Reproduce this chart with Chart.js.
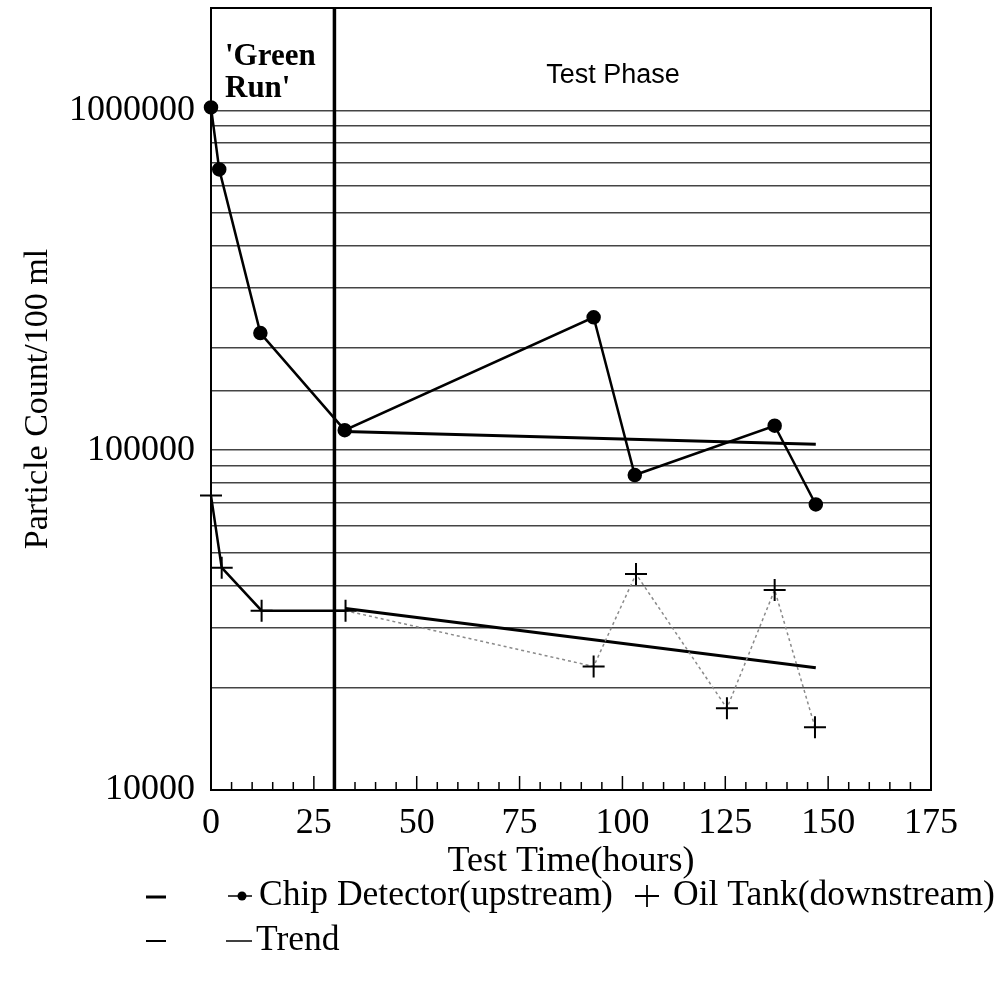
<!DOCTYPE html>
<html>
<head>
<meta charset="utf-8">
<script src="https://cdn.jsdelivr.net/npm/chart.js@4"></script>
<style>
html,body{margin:0;padding:0;background:#fff;}
#wrap{width:1000px;height:983px;position:relative;}
</style>
</head>
<body>
<div id="wrap"><canvas id="c"></canvas></div>
<script>
// ---- data ----
const chipHours = [0, 2, 12, 32.5, 93, 103, 137, 147];
const chipCounts = [1020000, 670000, 221000, 114500, 246000, 84500, 118000, 69200];

const oilHours = [0, 2.6, 12.3, 32.7, 93, 103.3, 125.4, 137, 146.8];
const oilCounts = [73500, 45100, 33700, 33700, 23100, 43200, 17400, 38800, 15300];

const chipTrendHours = [32.5, 147];
const chipTrendCounts = [113500, 104000];
const oilTrendHours = [32.7, 147];
const oilTrendCounts = [34200, 22900];

const xTicks = [0, 25, 50, 75, 100, 125, 150, 175];
const yTickLabels = [10000, 100000, 1000000];
const phaseBoundary = 30;

const seriesNames = ['Chip Detector(upstream)', 'Oil Tank(downstream)', 'Trend'];
const phaseNames = ["'Green", "Run'", 'Test Phase'];
const xTitle = 'Test Time(hours)';
const yTitle = 'Particle Count/100 ml';

const SERIF = "'Liberation Serif','Times New Roman',serif";
const SANS = "'Liberation Sans',Arial,sans-serif";

function pts(xs, ys){ return xs.map((x,i)=>({x:x, y:ys[i]})); }

const decorPlugin = {
  id: 'decor',
  beforeDatasetsDraw(chart){
    const {ctx, chartArea:a, scales:{x}} = chart;
    ctx.save();
    // minor inward ticks on x axis
    ctx.strokeStyle = '#000';
    ctx.lineWidth = 1.5;
    for (let v = 0; v <= 175; v += 5){
      const px = x.getPixelForValue(v);
      const len = (v % 25 === 0) ? 14 : 8;
      ctx.beginPath(); ctx.moveTo(px, a.bottom); ctx.lineTo(px, a.bottom - len); ctx.stroke();
    }
    // top and right border
    ctx.lineWidth = 2;
    ctx.beginPath();
    ctx.moveTo(a.left, a.top); ctx.lineTo(a.right, a.top); ctx.lineTo(a.right, a.bottom);
    ctx.stroke();
    // phase boundary
    const bx = x.getPixelForValue(phaseBoundary);
    ctx.lineWidth = 3.5;
    ctx.beginPath(); ctx.moveTo(bx, a.top); ctx.lineTo(bx, a.bottom); ctx.stroke();
    // phase labels
    ctx.fillStyle = '#000';
    ctx.textBaseline = 'alphabetic';
    ctx.textAlign = 'left';
    ctx.font = "bold 31px " + SERIF;
    ctx.fillText(phaseNames[0], x.getPixelForValue(3.4), a.top + 57);
    ctx.fillText(phaseNames[1], x.getPixelForValue(3.4), a.top + 89);
    ctx.font = "27px " + SANS;
    ctx.textAlign = 'center';
    ctx.fillText(phaseNames[2], x.getPixelForValue(97.7), a.top + 75);
    ctx.restore();
  },
  afterDraw(chart){
    const {ctx} = chart;
    ctx.save();
    ctx.fillStyle = '#000';
    ctx.strokeStyle = '#000';
    ctx.font = "35.5px " + SERIF;
    ctx.textBaseline = 'middle';
    ctx.textAlign = 'left';
    // row 1
    let y = 896;
    ctx.lineWidth = 3;
    ctx.beginPath(); ctx.moveTo(146, y+1); ctx.lineTo(166, y+1); ctx.stroke();
    ctx.lineWidth = 1.5;
    ctx.beginPath(); ctx.moveTo(228, y); ctx.lineTo(252, y); ctx.stroke();
    ctx.beginPath(); ctx.arc(242, y, 4.5, 0, Math.PI*2); ctx.fill();
    ctx.fillText(seriesNames[0], 259, y);
    ctx.lineWidth = 1.8;
    ctx.beginPath(); ctx.moveTo(635, y); ctx.lineTo(659, y); ctx.moveTo(647, y-11); ctx.lineTo(647, y+11); ctx.stroke();
    ctx.fillText(seriesNames[1], 673, y);
    // row 2
    y = 941;
    ctx.lineWidth = 2;
    ctx.beginPath(); ctx.moveTo(146, y); ctx.lineTo(166, y); ctx.stroke();
    ctx.lineWidth = 1.5;
    ctx.beginPath(); ctx.moveTo(226, y); ctx.lineTo(252, y); ctx.stroke();
    ctx.fillText(seriesNames[2], 256, y);
    ctx.restore();
  }
};

new Chart(document.getElementById('c'), {
  type: 'line',
  data: {
    datasets: [
      {
        label: seriesNames[0],
        data: pts(chipHours, chipCounts),
        borderColor: '#000', borderWidth: 2.5,
        pointStyle: 'circle', pointRadius: 6, pointBackgroundColor: '#000', pointBorderColor: '#000',
        tension: 0, clip: false
      },
      {
        label: seriesNames[1],
        data: pts(oilHours, oilCounts),
        borderColor: '#000', borderWidth: 2.5,
        pointStyle: 'cross', pointRadius: 11, pointBorderWidth: 2, pointBorderColor: '#000',
        tension: 0, clip: false,
        segment: {
          borderColor: c => c.p0.parsed.x > phaseBoundary ? '#8a8a8a' : '#000',
          borderDash: c => c.p0.parsed.x > phaseBoundary ? [3,3] : undefined,
          borderWidth: c => c.p0.parsed.x > phaseBoundary ? 1.5 : 2.5
        }
      },
      {
        label: seriesNames[2],
        data: pts(chipTrendHours, chipTrendCounts),
        borderColor: '#000', borderWidth: 3, pointRadius: 0, tension: 0
      },
      {
        label: seriesNames[2] + ' ',
        data: pts(oilTrendHours, oilTrendCounts),
        borderColor: '#000', borderWidth: 3, pointRadius: 0, tension: 0
      }
    ]
  },
  options: {
    responsive: true,
    maintainAspectRatio: false,
    animation: false,
    layout: { autoPadding: false, padding: { left: 0, right: 69, top: 8, bottom: 100 } },
    plugins: { legend: { display: false }, tooltip: { enabled: false } },
    scales: {
      x: {
        type: 'linear', min: 0, max: 175,
        afterFit(s){ s.height = 93; s.paddingLeft = 0; s.paddingRight = 0; },
        afterBuildTicks(s){ s.ticks = xTicks.map(v => ({value: v})); },
        ticks: { autoSkip: false, color: '#000', padding: 12, font: { family: SERIF, size: 36 }, maxRotation: 0 },
        grid: { drawOnChartArea: false, drawTicks: false },
        border: { display: true, color: '#000', width: 2 },
        title: { display: true, text: xTitle, color: '#000', font: { family: SERIF, size: 36 }, padding: { top: 0, bottom: 0 } }
      },
      y: {
        type: 'logarithmic', min: 10000, max: 2000000,
        afterFit(s){ s.width = 211; s.paddingTop = 0; s.paddingBottom = 0; },
        ticks: {
          autoSkip: false, color: '#000', padding: 16,
          font: { family: SERIF, size: 36 },
          callback: v => yTickLabels.includes(v) ? String(v) : ''
        },
        grid: {
          drawTicks: false,
          lineWidth: 1.5,
          color: c => (c.tick && c.tick.value <= 1000000) ? '#444' : 'rgba(0,0,0,0)'
        },
        border: { display: true, color: '#000', width: 2 },
        title: { display: true, text: yTitle, color: '#000', font: { family: SERIF, size: 34 }, padding: { top: 18, bottom: 0 } }
      }
    }
  },
  plugins: [decorPlugin]
});
</script>
</body>
</html>
